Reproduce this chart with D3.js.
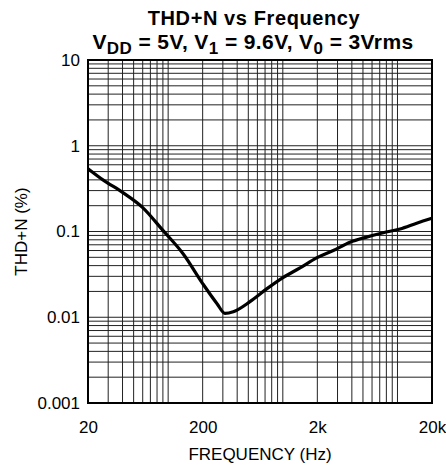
<!DOCTYPE html>
<html>
<head>
<meta charset="utf-8">
<script src="https://cdn.jsdelivr.net/npm/d3@7"></script>
<style>
  html, body { margin: 0; padding: 0; background: #fff; }
  svg { display: block; font-family: "Liberation Sans", Arial, sans-serif; }
</style>
</head>
<body>
<svg id="chart" width="446" height="470"></svg>
<script>
// Data
const freqHz = [20, 27, 40, 60, 90, 135, 200, 267, 313, 370, 517, 723, 1010, 1413, 1972, 2756, 3855, 5385, 7520, 10520, 14700, 20000];
const thdPct = [0.54, 0.40, 0.286, 0.19, 0.103, 0.055, 0.0247, 0.0144, 0.0111, 0.0116, 0.0152, 0.0214, 0.0292, 0.0376, 0.0492, 0.060, 0.075, 0.086, 0.0966, 0.107, 0.125, 0.143];
const xTickValues = [20, 200, 2000, 20000];
const xTickLabels = ["20", "200", "2k", "20k"];
const yTickValues = [10, 1, 0.1, 0.01, 0.001];
const yTickLabels = ["10", "1", "0.1", "0.01", "0.001"];

const svg = d3.select("#chart");
const margin = { left: 88, right: 14, top: 60, bottom: 67 };
const W = 446, H = 470;
const x = d3.scaleLog().domain([20, 20000]).range([margin.left, W - margin.right]);
const y = d3.scaleLog().domain([0.001, 10]).range([H - margin.bottom, margin.top]);

// grid values
const xGrid = [];
[10, 100, 1000, 10000].forEach(d => { for (let k = 1; k <= 9; k++) { const v = d * k; if (v > 20 && v < 20000) xGrid.push(v); } });
const yGrid = [];
[0.001, 0.01, 0.1, 1].forEach(d => { for (let k = 1; k <= 9; k++) { const v = d * k; if (v > 0.001 && v < 10) yGrid.push(+v.toPrecision(3)); } });

const g = svg.append("g");
g.selectAll("line.xg").data(xGrid).enter().append("line")
  .attr("x1", d => x(d)).attr("x2", d => x(d))
  .attr("y1", y(10)).attr("y2", y(0.001))
  .attr("stroke", "#222").attr("stroke-width", 1);
g.selectAll("line.yg").data(yGrid).enter().append("line")
  .attr("y1", d => y(d)).attr("y2", d => y(d))
  .attr("x1", x(20)).attr("x2", x(20000))
  .attr("stroke", "#222").attr("stroke-width", 1);

// border
g.append("rect")
  .attr("x", x(20)).attr("y", y(10))
  .attr("width", x(20000) - x(20)).attr("height", y(0.001) - y(10))
  .attr("fill", "none").attr("stroke", "#000").attr("stroke-width", 2);

// curve
const line = d3.line().x((d, i) => x(freqHz[i])).y((d, i) => y(thdPct[i])).curve(d3.curveMonotoneX);
g.append("path").datum(thdPct).attr("d", line)
  .attr("fill", "none").attr("stroke", "#000").attr("stroke-width", 3.2).attr("stroke-linejoin", "round");

// axes (labels only)
const xAxis = d3.axisBottom(x).tickValues(xTickValues).tickFormat((d, i) => xTickLabels[i]).tickSize(0).tickPadding(18);
const xa = svg.append("g").attr("transform", `translate(0,${y(0.001)})`).call(xAxis);
xa.select(".domain").remove();
xa.selectAll("text").attr("font-size", 17).attr("fill", "#000").attr("font-family", "Liberation Sans, Arial, sans-serif");

const yAxis = d3.axisLeft(y).tickValues(yTickValues).tickFormat((d, i) => yTickLabels[i]).tickSize(0).tickPadding(8);
const ya = svg.append("g").attr("transform", `translate(${x(20)},0)`).call(yAxis);
ya.select(".domain").remove();
ya.selectAll("text").attr("font-size", 17).attr("fill", "#000").attr("font-family", "Liberation Sans, Arial, sans-serif");

// axis titles
svg.append("text").attr("x", (x(20) + x(20000)) / 2).attr("y", 460)
  .attr("text-anchor", "middle").attr("font-size", 17).text("FREQUENCY (Hz)");
svg.append("text").attr("transform", `translate(27,${(y(10) + y(0.001)) / 2}) rotate(-90)`)
  .attr("text-anchor", "middle").attr("font-size", 17).text("THD+N (%)");

// title
svg.append("text").attr("x", 254).attr("y", 25).attr("text-anchor", "middle")
  .attr("font-weight", "bold").attr("font-size", 20).attr("letter-spacing", 0.6)
  .text("THD+N vs Frequency");
const l2 = svg.append("text").attr("x", 253).attr("y", 48.5).attr("text-anchor", "middle")
  .attr("font-weight", "bold").attr("font-size", 21).attr("letter-spacing", 0.4);
const parts = [["V", false], ["DD", true], [" = 5V, V", false], ["1", true], [" = 9.6V, V", false], ["0", true], [" = 3Vrms", false]];
parts.forEach(([s, sub], i) => {
  const ts = l2.append("tspan").text(s);
  if (sub) { ts.attr("dy", 5).attr("font-size", 17); }
  else if (i > 0) { ts.attr("dy", -5); }
});
</script>
</body>
</html>
